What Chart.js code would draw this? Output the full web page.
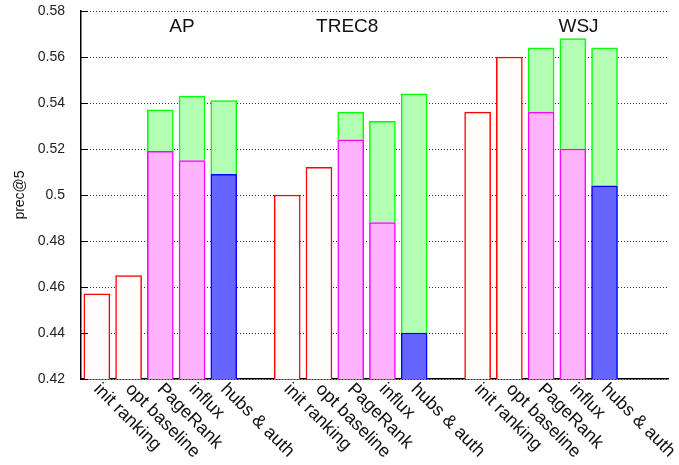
<!DOCTYPE html>
<html>
<head>
<meta charset="utf-8">
<script src="https://cdn.jsdelivr.net/npm/chart.js@4"></script>
<style>
  html, body { margin: 0; padding: 0; background: #fff; }
  #wrap { width: 679px; height: 465px; }
</style>
</head>
<body>
<div id="wrap"><canvas id="c"></canvas></div>
<script>
// prec@5 per collection and ranking method
const groups  = ['AP', 'TREC8', 'WSJ'];
const methods = ['init ranking', 'opt baseline', 'PageRank', 'influx', 'hubs & auth'];

const initRanking  = [0.457, 0.500, 0.536];
const optBaseline  = [0.465, 0.512, 0.560];
const pageRankBase = [0.519, 0.524, 0.536];
const pageRankTop  = [0.537, 0.536, 0.564];
const influxBase   = [0.515, 0.488, 0.520];
const influxTop    = [0.543, 0.532, 0.568];
const hubsBase     = [0.509, 0.440, 0.504];
const hubsTop      = [0.541, 0.544, 0.564];

const yMin = 0.42, yMax = 0.58, yStep = 0.02;

const FONT = '"Liberation Sans", Arial, Helvetica, sans-serif';
const SLOT = methods.length + 1;           // one empty slot between groups
const pos = (g, m) => g * SLOT + m;

const pts  = (vals, m) => vals.map((v, g) => ({ x: pos(g, m), y: v }));
const span = (lo, hi, m) => lo.map((v, g) => ({ x: pos(g, m), y: [v, hi[g]] }));

const yValues = () => {
  const out = [];
  for (let v = yMin; v <= yMax + 1e-9; v += yStep) out.push(v);
  return out;
};

// gnuplot-ish extras: dotted grid, inward ticks, rotated x labels, group titles
const overlay = {
  id: 'overlay',
  beforeDatasetsDraw(chart) {
    const { ctx, chartArea: a, scales: { y } } = chart;
    ctx.save();
    ctx.strokeStyle = '#333';
    ctx.lineWidth = 1;
    ctx.setLineDash([1, 2]);
    yValues().forEach(v => {
      const py = Math.round(y.getPixelForValue(v)) + 0.5;
      ctx.beginPath();
      ctx.moveTo(a.left, py);
      ctx.lineTo(a.right, py);
      ctx.stroke();
    });
    ctx.restore();
  },
  afterDraw(chart) {
    const { ctx, chartArea: a, scales: { x, y } } = chart;
    ctx.save();

    ctx.strokeStyle = '#000';
    ctx.lineWidth = 1;
    yValues().forEach(v => {
      const py = Math.round(y.getPixelForValue(v)) + 0.5;
      ctx.beginPath();
      ctx.moveTo(a.left, py);
      ctx.lineTo(a.left + 7, py);
      ctx.stroke();
    });

    ctx.fillStyle = '#111';
    ctx.font = '18px ' + FONT;
    ctx.textAlign = 'left';
    ctx.textBaseline = 'top';
    groups.forEach((g, gi) => methods.forEach((m, mi) => {
      const px = x.getPixelForValue(pos(gi, mi));
      ctx.save();
      ctx.translate(px + 6, a.bottom + 1);
      ctx.rotate(Math.PI / 4);
      ctx.fillText(m, 0, 0);
      ctx.restore();
    }));

    const titleX = [2.68, 7.89, 15.18];
    ctx.font = '19px ' + FONT;
    ctx.textAlign = 'center';
    ctx.textBaseline = 'alphabetic';
    groups.forEach((g, gi) => ctx.fillText(g, x.getPixelForValue(titleX[gi]), 32));

    ctx.restore();
  }
};

const common = { barThickness: 26, borderWidth: 1.5, grouped: false, clip: 0 };

new Chart(document.getElementById('c'), {
  type: 'bar',
  data: {
    datasets: [
      { ...common, label: 'baseline', data: [...pts(initRanking, 0), ...pts(optBaseline, 1)],
        backgroundColor: '#fffcfc', borderColor: '#ff0000' },
      { ...common, label: 'bottom', data: [...pts(pageRankBase, 2), ...pts(influxBase, 3)],
        backgroundColor: '#ffb3ff', borderColor: '#ff00ff' },
      { ...common, label: 'hubs', data: pts(hubsBase, 4),
        backgroundColor: '#6666ff', borderColor: '#0000ff' },
      { ...common, label: 'gain',
        data: [...span(pageRankBase, pageRankTop, 2), ...span(influxBase, influxTop, 3), ...span(hubsBase, hubsTop, 4)],
        backgroundColor: '#b3ffb3', borderColor: '#00ff00' }
    ]
  },
  options: {
    responsive: true,
    maintainAspectRatio: false,
    animation: false,
    layout: { padding: { left: 0, right: 11, top: 11, bottom: 0 } },
    plugins: { legend: { display: false }, tooltip: { enabled: false } },
    scales: {
      x: {
        type: 'linear', min: -0.5, max: 18, offset: false,
        grid: { display: false },
        border: { display: true, color: '#000', width: 1.5 },
        ticks: { display: false },
        afterFit: s => { s.height = 86; }
      },
      y: {
        min: yMin, max: yMax,
        grid: { display: false },
        border: { display: true, color: '#000', width: 1.5 },
        ticks: {
          stepSize: yStep, padding: 8, color: '#222',
          font: { size: 14, family: FONT },
          callback: v => String(+v.toFixed(2))
        },
        title: { display: true, text: 'prec@5', color: '#111', font: { size: 14, family: FONT }, padding: { top: 12, bottom: 0 } },
        afterFit: s => { s.width = 81; s.paddingTop = 0; s.paddingBottom = 0; }
      }
    }
  },
  plugins: [overlay]
});
</script>
</body>
</html>
